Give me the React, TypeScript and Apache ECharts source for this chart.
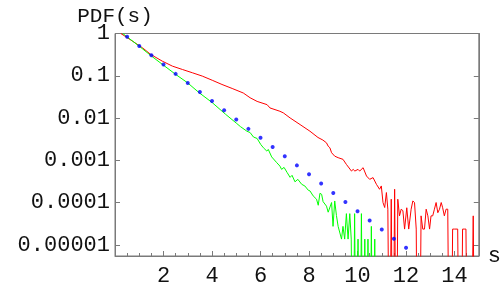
import React, { useEffect, useRef } from "react";
import * as echarts from "echarts";

// Red curve: [s, PDF(s)] (0 = empty bin)
const redCurve: [number, number][] = [
  [0.24, 1.0], [0.73, 0.655], [1.14, 0.456], [1.47, 0.321], [1.95, 0.222], [2.37, 0.169],
  [2.78, 0.141], [3.19, 0.118], [3.6, 0.0984], [4.01, 0.0784], [4.41, 0.0624], [4.83, 0.0502],
  [5.29, 0.0392], [5.57, 0.0303], [5.86, 0.0248], [6.27, 0.0208], [6.39, 0.0174], [6.8, 0.0145],
  [6.94, 0.0133], [7.22, 0.0101], [7.63, 0.00704], [8.04, 0.00489], [8.37, 0.00348], [8.57, 0.00303],
  [8.72, 0.0026], [8.79, 0.00217], [8.86, 0.00199], [8.93, 0.00152], [9.06, 0.00126], [9.2, 0.00116],
  [9.4, 0.00106], [9.54, 0.000805], [9.75, 0.00056], [9.82, 0.000614], [9.89, 0.00056], [10.02, 0.000614],
  [10.09, 0.00056], [10.23, 0.000673], [10.37, 0.000427], [10.5, 0.000357], [10.64, 0.000392],
  [10.78, 0.000272], [10.91, 0.000208], [10.98, 0.000249], [11.05, 0.000101], [11.12, 0.000077],
  [11.19, 0.000174], [11.25, 0.0000703], [11.32, 0], [11.39, 0.000121], [11.46, 0], [11.53, 0.000208],
  [11.6, 0], [11.66, 0.000121], [11.73, 0.0000489], [11.8, 0.0000703], [11.87, 0.000065],
  [11.94, 0.0000238], [12.03, 0.000076], [12.11, 0.0000238], [12.21, 0.0000703], [12.28, 0.00011],
  [12.35, 0.000101], [12.42, 0.0000238], [12.48, 0], [12.55, 0], [12.62, 0.0000489], [12.69, 0.0000238],
  [12.76, 0.0000238], [12.83, 0.0000703], [12.9, 0.0000489], [12.97, 0.0000238], [13.03, 0.0000489],
  [13.1, 0.0000489], [13.17, 0.0000703], [13.24, 0.000101], [13.31, 0.000058], [13.38, 0.0000703],
  [13.45, 0.000101], [13.51, 0.000076], [13.58, 0.0000489], [13.65, 0.0000703], [13.72, 0.0000703],
  [13.79, 0], [13.86, 0], [13.92, 0.0000238], [13.99, 0.0000238], [14.06, 0.0000238], [14.13, 0.0000238],
  [14.2, 0], [14.27, 0], [14.33, 0.0000238], [14.4, 0.0000238], [14.47, 0.0000238], [14.54, 0],
  [14.6, 0], [14.67, 0], [14.77, 0.0000489], [14.84, 0], [14.97, 0],
];

// Green curve: [s, PDF(s)] (0 = empty bin)
const greenCurve: [number, number][] = [
  [0.32, 1.0], [0.52, 0.814], [1.0, 0.5], [1.51, 0.291], [1.96, 0.185], [2.51, 0.107], [2.99, 0.0685],
  [3.47, 0.0398], [4.01, 0.0232], [4.56, 0.0123], [5.0, 0.00762], [5.17, 0.00631], [5.44, 0.00489],
  [5.57, 0.00456], [5.71, 0.00357], [5.86, 0.0033], [6.01, 0.00238], [6.12, 0.00199], [6.26, 0.00166],
  [6.32, 0.00182], [6.46, 0.00121], [6.67, 0.000883], [6.8, 0.000734], [6.87, 0.000614], [6.97, 0.000684],
  [7.1, 0.000514], [7.22, 0.000398], [7.3, 0.000444], [7.42, 0.000312], [7.54, 0.000357], [7.7, 0.000272],
  [7.83, 0.000248], [7.97, 0.000197], [8.04, 0.00019], [8.17, 0.000145], [8.31, 0.000121], [8.38, 0.000087],
  [8.45, 0.000167], [8.52, 0.000158], [8.58, 0.000106], [8.72, 0.000083], [8.79, 0.0000597],
  [8.93, 0.000101], [8.99, 0.0000276], [9.06, 0.00011], [9.13, 0.00005], [9.2, 0.0000276],
  [9.34, 0.0000138], [9.4, 0.0000276], [9.47, 0.0000138], [9.54, 0.0000552], [9.61, 0.0000138],
  [9.68, 0.0000552], [9.74, 0.0000138], [9.81, 0], [9.88, 0.0000552], [9.95, 0], [10.02, 0.0000138],
  [10.09, 0], [10.16, 0.0000552], [10.23, 0], [10.3, 0.0000138], [10.37, 0], [10.43, 0.0000138],
  [10.5, 0], [10.57, 0.0000276], [10.64, 0], [10.71, 0.0000138], [10.77, 0],
];

// Blue dots
const dotS = [0.5, 1, 1.5, 2, 2.5, 3, 3.5, 4, 4.5, 5, 5.5, 6, 6.5, 7, 7.5, 8, 8.5, 9, 9.5, 10, 10.5, 11, 11.5, 12];
const dotPdf = [
  0.841, 0.508, 0.307, 0.185, 0.111, 0.0673, 0.0413, 0.0254, 0.0153, 0.00922, 0.00557, 0.00342,
  0.00208, 0.00126, 0.000763, 0.000469, 0.000283, 0.00017, 0.000104, 0.000063, 0.0000381,
  0.0000234, 0.0000141, 0.0000086,
];

const yMin = 5.5e-6;
const yMax = 1;
const xMin = 0;
const xMax = 15;
const xTickStep = 2;

export default function App() {
  const ref = useRef<HTMLDivElement>(null);
  useEffect(() => {
    if (!ref.current) return;
    const chart = echarts.init(ref.current, null, { renderer: "svg" });
    const font = "Liberation Mono";
    const frame = "#7a7a7a";
    const empty = 1e-9;
    const toPts = (arr: [number, number][]) => arr.map(([s, p]) => [s, p > 0 ? p : empty]);
    const fmt = (v: number) => {
      const d = Math.max(0, Math.round(-Math.log10(v)));
      return v.toFixed(d);
    };
    const yAxisBase = {
      type: "log",
      logBase: 10,
      min: yMin,
      max: yMax,
      splitNumber: 5,
      splitLine: { show: false },
      axisLine: { show: true, lineStyle: { color: frame, width: 1 } },
      axisTick: { show: true, inside: true, length: 5, lineStyle: { color: frame } },
    };
    chart.setOption({
      animation: false,
      grid: {
        left: 115, right: 25, top: 33.5, bottom: 30,
        show: true, borderColor: frame, borderWidth: 1, backgroundColor: "transparent",
      },
      xAxis: {
        type: "value",
        min: xMin,
        max: xMax,
        interval: xTickStep,
        name: "s",
        nameLocation: "end",
        nameGap: 9,
        nameTextStyle: { fontFamily: font, fontSize: 22, color: "#111", verticalAlign: "middle" },
        splitLine: { show: false },
        axisLine: { show: true, lineStyle: { color: frame, width: 1 } },
        axisTick: { show: true, inside: true, length: 5, lineStyle: { color: frame } },
        minorTick: { show: true, splitNumber: 4, length: 3, lineStyle: { color: frame } },
        axisLabel: {
          showMinLabel: false, showMaxLabel: false,
          fontFamily: font, fontSize: 22, color: "#111", margin: 9,
        },
      },
      yAxis: [
        {
          ...yAxisBase,
          position: "left",
          name: "PDF(s)",
          nameLocation: "end",
          nameGap: 9,
          nameMoveOverlap: false,
          nameTextStyle: { fontFamily: font, fontSize: 21, color: "#111", align: "center", lineHeight: 16 },
          axisLabel: {
            showMinLabel: false,
            fontFamily: font, fontSize: 22, color: "#111", margin: 5, lineHeight: 16,
            formatter: (v: number) => fmt(v),
          },
        },
        {
          ...yAxisBase,
          position: "right",
          axisLabel: { show: false },
        },
      ],
      series: [
        {
          type: "line", data: toPts(redCurve), showSymbol: false, symbol: "none",
          lineStyle: { color: "#ff0000", width: 1 }, clip: true, z: 2,
        },
        {
          type: "line", data: toPts(greenCurve), showSymbol: false, symbol: "none",
          lineStyle: { color: "#00ff00", width: 1 }, clip: true, z: 3,
        },
        {
          type: "scatter", data: dotS.map((s, i) => [s, dotPdf[i]]),
          symbol: "circle", symbolSize: 4, itemStyle: { color: "#0000ff" }, z: 4,
        },
      ],
    });
    return () => chart.dispose();
  }, []);
  return <div ref={ref} style={{ position: "fixed", left: 0, top: 0, width: 504, height: 287 }} />;
}
